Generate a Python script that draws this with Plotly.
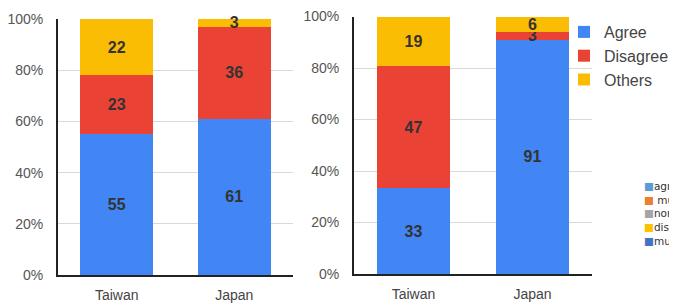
import plotly.graph_objects as go

countries = ["Taiwan", "Japan"]
series_names = ["Agree", "Disagree", "Others"]
colors = ["#4285F4", "#EA4335", "#FBBC04"]

# left chart values (%)
left_agree = [55, 61]
left_disagree = [23, 36]
left_others = [22, 3]

# right chart values (%)
right_agree = [33, 91]
right_disagree = [47, 3]
right_others = [19, 6]

y_ticks = [0, 20, 40, 60, 80, 100]
y_tick_labels = ["0%", "20%", "40%", "60%", "80%", "100%"]

# fragment of a neighbouring chart's legend (cut by the image edge)
side_legend_labels = ["agr", " mu", "nor", "disa", "mu"]
side_legend_colors = ["#5B9BD5", "#ED7D31", "#A5A5A5", "#FFC000", "#4472C4"]

# page body has an 8px margin; the window shows figure x 0..669, y 0..297
W, H = 690, 297

fig = go.Figure()

left = [left_agree, left_disagree, left_others]
right = [right_agree, right_disagree, right_others]

for i, name in enumerate(series_names):
    for vals, xa, ya, show in [(left[i], "x", "y", True), (right[i], "x2", "y2", False)]:
        fig.add_trace(go.Bar(
            x=countries, y=vals, name=name, text=vals,
            texttemplate="%{text}", textposition="inside", textangle=0,
            insidetextanchor="middle", constraintext="none",
            textfont=dict(family="Liberation Sans", size=16, color="#333333", weight="bold"),
            marker=dict(color=colors[i], line=dict(width=0)),
            xaxis=xa, yaxis=ya, showlegend=show, legendgroup=name,
            hoverinfo="skip", cliponaxis=False,
        ))

axis_common = dict(showgrid=False, showline=True, linecolor="#222222", linewidth=2,
                   tickfont=dict(family="Liberation Sans", size=14, color="#444444"),
                   ticks="", ticklabelstandoff=6, fixedrange=True)
yaxis_common = dict(range=[0, 100.01], tickvals=y_ticks, ticktext=y_tick_labels,
                    showgrid=True, gridcolor="#D9D9D9", gridwidth=1, zeroline=False,
                    showline=True, linecolor="#222222", linewidth=2,
                    tickfont=dict(family="Liberation Sans", size=14, color="#555555"),
                    ticks="", ticklabelstandoff=10, fixedrange=True)

fig.update_layout(
    width=W, height=H,
    margin=dict(l=0, r=0, t=0, b=0, autoexpand=False),
    paper_bgcolor="white", plot_bgcolor="white",
    barmode="stack", barnorm="percent", bargap=0.38,
    xaxis=dict(domain=[50/W, 285/W], anchor="y", **axis_common),
    yaxis=dict(domain=[30/H, 286/H], anchor="x", **yaxis_common),
    xaxis2=dict(domain=[346/W, 584/W], anchor="y2", **axis_common),
    yaxis2=dict(domain=[31/H, 288.5/H], anchor="x2", **yaxis_common),
    legend=dict(x=556/W, y=1 - 7/H, xanchor="left", yanchor="top",
                traceorder="normal", itemwidth=30, bgcolor="rgba(0,0,0,0)",
                font=dict(family="Liberation Sans", size=16, color="#444444")),
    showlegend=True,
)

# fragment legend of neighbouring chart, as text
text = "<br>".join(f"<span style='color:{col}'>■</span>{lab}"
                   for lab, col in zip(side_legend_labels, side_legend_colors))
fig.add_annotation(
    x=634/W, y=1 - 170/H, xref="paper", yref="paper",
    xanchor="left", yanchor="top", align="left", showarrow=False, text=text,
    font=dict(family="DejaVu Sans", size=10.5, color="#333333"),
)

fig.write_html("out.html")
